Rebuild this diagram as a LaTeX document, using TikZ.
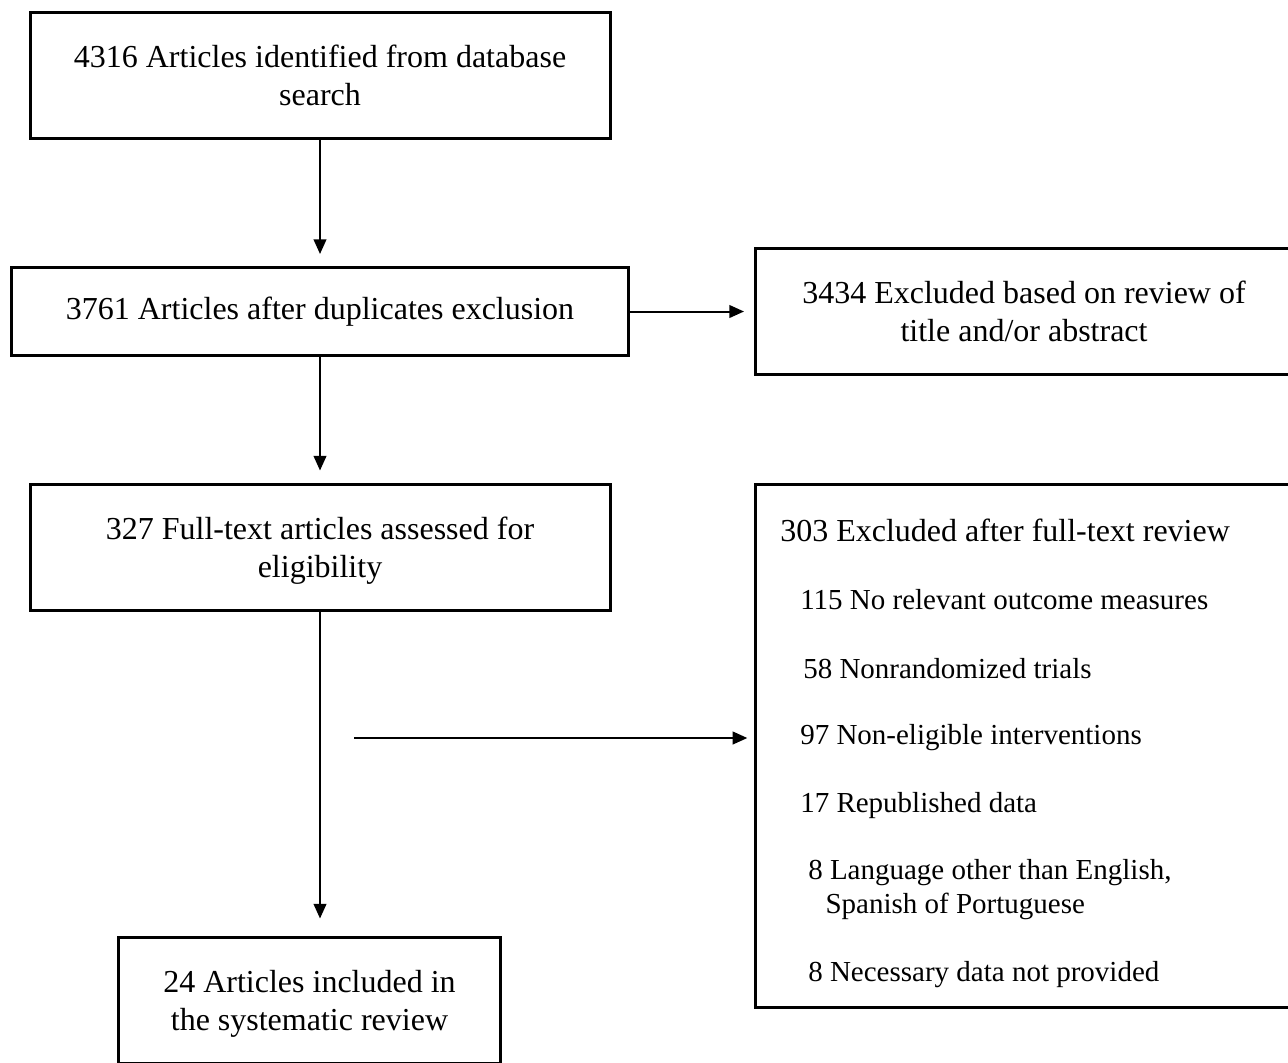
\documentclass[tikz,border=0pt]{standalone}
\usepackage{fontspec}
\setmainfont{Liberation Serif}
\usetikzlibrary{arrows.meta}

\begin{document}
\begin{tikzpicture}[x=0.75pt,y=-0.75pt,
  box/.style={draw,line width=2.25pt,align=center,inner sep=0pt,
    font=\fontsize{24}{28.5}\selectfont},
  item/.style={anchor=west,inner sep=0pt,align=left,
    font=\fontsize{21.75}{25.5}\selectfont}]

\useasboundingbox (0,0) rectangle (1288,1063);
\clip (0,0) rectangle (1288,1063);

\node[box,minimum width=435pt,minimum height=94.5pt] (l1) at (320,75.5)
  {4316 Articles identified from database\\search};
\node[box,minimum width=462.75pt,minimum height=66pt] (l2) at (320,311.5)
  {3761 Articles after duplicates exclusion};
\node[box,minimum width=435pt,minimum height=94.5pt] (l3) at (320,547)
  {\rule{0pt}{23pt}327 Full-text articles assessed for\\eligibility};
\node[box,minimum width=286.5pt,minimum height=94.5pt] (l4) at (309.5,1000)
  {\rule{0pt}{23pt}24 Articles included in\\the systematic review};

\node[box,minimum width=402.75pt,minimum height=94.5pt] (r1) at (1024,311.5)
  {3434 Excluded based on review of\\title and/or abstract};
\node[box,minimum width=402.75pt,minimum height=392.25pt] (r2) at (1024,746) {};

\node[item,font=\fontsize{24}{28.5}\selectfont] (e0) at (780,530) {303 Excluded after full-text review};
\node[item] (e1) at (800,600) {115 No relevant outcome measures};
\node[item] (e2) at (803,669) {58 Nonrandomized trials};
\node[item] (e3) at (800,738) {97 Non-eligible interventions};
\node[item] (e4) at (800,806) {17 Republished data};
\node[item] (e5) at (808,890) {8 Language other than English,\\\hspace*{13pt}Spanish of Portuguese};
\node[item] (e6) at (808,975) {8 Necessary data not provided};

\coordinate (c1) at (354,738);

\path[-{Triangle[length=11pt,width=9.5pt]},line width=1.5pt]
  (l1) edge[shorten >=9pt] (l2)
  (l2) edge[shorten >=7.5pt] (r1)
  (l2) edge[shorten >=9pt] (l3)
  (l3.south) edge[shorten >=12.75pt] (l3.south |- l4.north)
  (c1) edge[shorten >=5pt] (c1 -| r2.west);

\end{tikzpicture}
\end{document}
